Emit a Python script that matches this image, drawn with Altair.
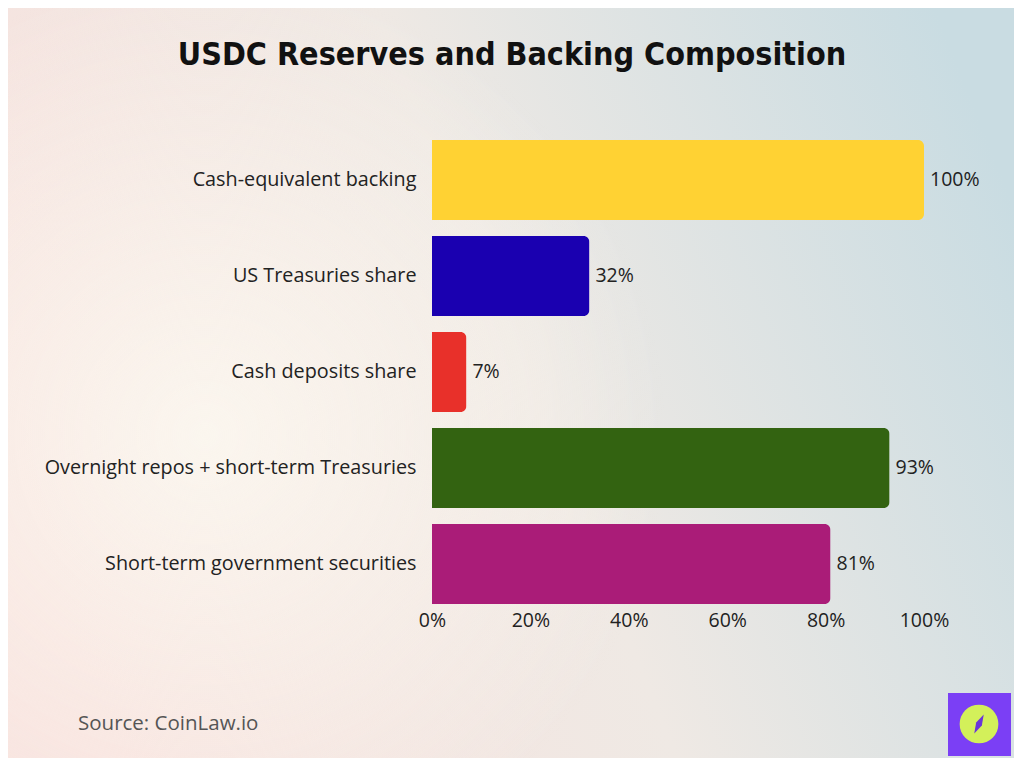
import altair as alt
import pandas as pd

categories = [
    "Cash-equivalent backing",
    "US Treasuries share",
    "Cash deposits share",
    "Overnight repos + short-term Treasuries",
    "Short-term government securities",
]
values = [100, 32, 7, 93, 81]
colors = ["#FFD233", "#1A00B0", "#E8302A", "#336311", "#AA1C78"]
x_ticks = [0, 20, 40, 60, 80, 100]

df = pd.DataFrame({"category": categories, "value": values, "color": colors})

W, H = 492, 480
PL, PT = 424, 124
OX, OY = 432, 132  # page position of plot origin
FONT = "Open Sans"

one = alt.Data(values=[{}])

bg_enc = dict(x=alt.value(-OX), x2=alt.value(1024 - OX),
              y=alt.value(-OY), y2=alt.value(768 - OY))

bg = alt.Chart(one).mark_rect(
    fill=alt.Gradient(
        gradient="linear", x1=0, y1=0.6, x2=1, y2=0.3,
        stops=[
            alt.GradientStop(offset=0, color="#F8E2DE"),
            alt.GradientStop(offset=0.5, color="#EFE9E4"),
            alt.GradientStop(offset=1, color="#C9DCE2"),
        ],
    ),
    clip=False,
).encode(**bg_enc)

glow = alt.Chart(one).mark_rect(
    fill=alt.Gradient(
        gradient="radial", x1=0.2, y1=0.55, r1=0, x2=0.2, y2=0.55, r2=0.45,
        stops=[
            alt.GradientStop(offset=0, color="rgba(252,249,241,0.85)"),
            alt.GradientStop(offset=1, color="rgba(252,249,241,0)"),
        ],
    ),
    clip=False,
).encode(**bg_enc)

y_enc = alt.Y(
    "category:N", sort=categories, title=None,
    scale=alt.Scale(paddingInner=1 / 6, paddingOuter=1 / 12),
    axis=alt.Axis(domain=False, ticks=False, labelFontSize=19.8, labelFont=FONT,
                  labelColor="#222222", labelPadding=16, labelLimit=420, zindex=1),
)
x_enc = alt.X(
    "value:Q", title=None,
    scale=alt.Scale(domain=[0, 100], nice=False),
    axis=alt.Axis(values=x_ticks, labelExpr="datum.value + '%'", domain=False, ticks=False,
                  grid=False, labelFontSize=19.5, labelFont=FONT, labelColor="#222222",
                  labelPadding=-1, labelBaseline="top", labelFlush=False, zindex=1),
)

bars = alt.Chart(df).mark_bar(cornerRadiusEnd=6).encode(
    y=y_enc, x=x_enc,
    color=alt.Color("color:N", scale=None, legend=None),
)
labels = alt.Chart(df).transform_calculate(lbl="datum.value + '%'").mark_text(
    align="left", dx=6, fontSize=19.5, font=FONT, color="#222222").encode(
    y=alt.Y("category:N", sort=categories),
    x="value:Q",
    text="lbl:N",
)

title = alt.Chart(one).mark_text(
    align="center", baseline="middle",
    font="'DejaVu Sans Condensed', 'Liberation Sans Narrow', 'DejaVu Sans', sans-serif",
    fontSize=32, fontWeight="bold", color="#111111", clip=False).encode(
    x=alt.value(512 - OX), y=alt.value(55 - OY),
    text=alt.value("USDC Reserves and Backing Composition"))

source = alt.Chart(one).mark_text(align="left", baseline="middle", fontSize=20.5, font=FONT,
                                  color="#555555").encode(
    x=alt.value(78 - OX), y=alt.value(724 - OY), text=alt.value("Source: CoinLaw.io"))

logo_sq = alt.Chart(one).mark_rect(color="#7B3FF5", clip=False).encode(
    x=alt.value(948 - OX), x2=alt.value(1011 - OX),
    y=alt.value(693 - OY), y2=alt.value(756 - OY))
logo_c = alt.Chart(one).mark_point(shape="circle", filled=True, color="#D3F05A", size=1500,
                                   opacity=1, clip=False).encode(
    x=alt.value(979 - OX), y=alt.value(724 - OY))
logo_d = alt.Chart(one).mark_point(shape="M-0.3,0.6L-0.18,-0.09L0.3,-0.6L0.18,0.09Z", filled=True,
                                   color="#6A35D8", size=1000, opacity=1, clip=False).encode(
    x=alt.value(979 - OX), y=alt.value(724 - OY))

chart = alt.layer(bg, glow, bars, labels, title, source, logo_sq, logo_c, logo_d).properties(
    width=W, height=H,
    autosize=alt.AutoSizeParams(type="none"),
    padding={"left": PL, "top": PT, "right": 90, "bottom": 146},
).configure_view(stroke=None).configure(background="#F2EEE7")

chart.save("out.html", embed_options={"renderer": "svg", "actions": False})
